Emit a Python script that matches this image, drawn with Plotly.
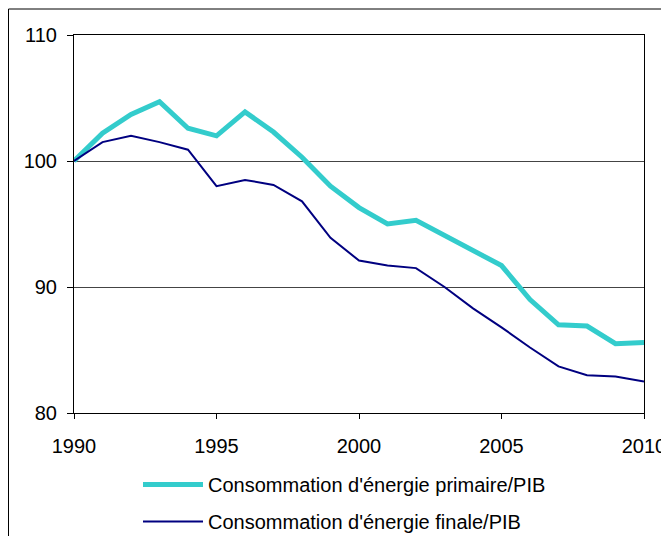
import plotly.graph_objects as go

# Données (indice base 100 en 1990)
years = list(range(1990, 2011))
primaire = [100.0, 102.2, 103.7, 104.7, 102.6, 102.0, 103.9, 102.3, 100.3, 98.0,
            96.3, 95.0, 95.3, 94.1, 93.0, 91.7, 89.0, 87.0, 86.9, 85.5, 85.6]
finale = [100.0, 101.5, 102.0, 101.5, 100.9, 98.0, 98.5, 98.1, 96.8, 93.9,
          92.1, 91.7, 91.5, 90.0, 88.3, 86.8, 85.2, 83.7, 83.0, 82.9, 82.5]
x_ticks = [1990, 1995, 2000, 2005, 2010]
y_ticks = [80, 90, 100, 110]

CYAN = "#33CCCC"
NAVY = "#000080"
TEXT_COLOR = "#000000"

# La page ajoute une marge de 8 px : la figure fait donc 661x528
W, H = 661, 528
L, R, T, B = 66, 25, 27, 123
PW, PH = W - L - R, H - T - B


def px_to_paper(px, py):
    """Pixels (repère de la figure) -> coordonnées paper."""
    return (px - L) / PW, (H - B - py) / PH


fig = go.Figure()
fig.add_trace(go.Scatter(
    x=years, y=primaire, mode="lines",
    name="Consommation d'énergie primaire/PIB",
    legendgroup="a",
    line={"color": CYAN, "width": 5},
))
fig.add_trace(go.Scatter(
    x=years, y=finale, mode="lines",
    name="Consommation d'énergie finale/PIB",
    legendgroup="b",
    line={"color": NAVY, "width": 2},
))

# Cadre extérieur (bords gauche et haut seulement, comme sur l'original)
x0, y0 = px_to_paper(0.5, 1)
x1, _ = px_to_paper(W, 1)
_, y1 = px_to_paper(0.5, H)
fig.add_shape(type="line", xref="paper", yref="paper", x0=x0, y0=y0, x1=x1, y1=y0,
              line={"color": "black", "width": 1})
fig.add_shape(type="line", xref="paper", yref="paper", x0=x0, y0=y0, x1=x0, y1=y1,
              line={"color": "black", "width": 1})

fig.update_layout(
    width=W, height=H,
    template="plotly_white",
    plot_bgcolor="white",
    paper_bgcolor="white",
    font={"family": "Arial, Liberation Sans, sans-serif", "size": 20, "color": TEXT_COLOR},
    margin={"l": L, "r": R, "t": T, "b": B, "autoexpand": False},
    showlegend=True,
    legend={
        "orientation": "v",
        "x": px_to_paper(130, 0)[0], "xanchor": "left",
        "y": px_to_paper(0, 457)[1], "yanchor": "top",
        "font": {"size": 20, "color": TEXT_COLOR},
        "bgcolor": "rgba(0,0,0,0)",
        "itemwidth": 60,
        "tracegroupgap": 8,
    },
)

fig.update_xaxes(
    range=[1990, 2010],
    tickvals=x_ticks,
    showgrid=False,
    zeroline=False,
    showline=True, linecolor="black", linewidth=1, mirror=True,
    ticks="outside", ticklen=5, tickcolor="black",
    ticklabelstandoff=10,
    tickfont={"size": 20},
)
fig.update_yaxes(
    range=[80, 110],
    tickvals=y_ticks,
    showgrid=True, gridcolor="#444444", gridwidth=1,
    zeroline=False,
    showline=True, linecolor="black", linewidth=1, mirror=True,
    ticks="outside", ticklen=6, tickcolor="black",
    ticklabelstandoff=6,
    tickfont={"size": 20},
)

fig.write_html("out.html")
